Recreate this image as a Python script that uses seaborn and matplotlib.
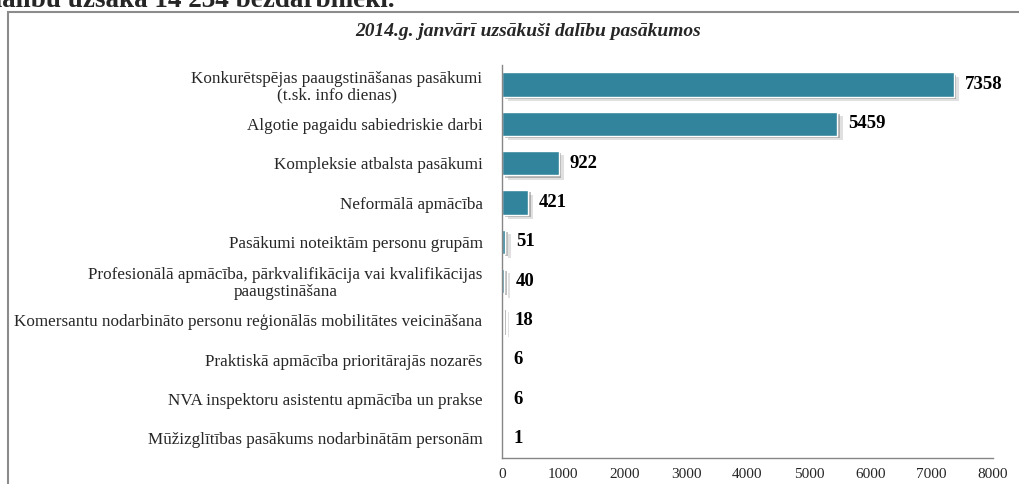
import matplotlib
matplotlib.use("Agg")
import matplotlib.pyplot as plt
import matplotlib.patheffects as pe
from matplotlib.patches import Rectangle
from matplotlib.ticker import FixedLocator
import seaborn as sns
import pandas as pd

# chart data
categories = [
    "Konkurētspējas paaugstināšanas pasākumi\n(t.sk. info dienas)",
    "Algotie pagaidu sabiedriskie darbi",
    "Kompleksie atbalsta pasākumi",
    "Neformālā apmācība",
    "Pasākumi noteiktām personu grupām",
    "Profesionālā apmācība, pārkvalifikācija vai kvalifikācijas\npaaugstināšana",
    "Komersantu nodarbināto personu reģionālās mobilitātes veicināšana",
    "Praktiskā apmācība prioritārajās nozarēs",
    "NVA inspektoru asistentu apmācība un prakse",
    "Mūžizglītības pasākums nodarbinātām personām",
]
values = [7358, 5459, 922, 421, 51, 40, 18, 6, 6, 1]
x_ticks = [0, 1000, 2000, 3000, 4000, 5000, 6000, 7000, 8000]
title = "2014.g. janvārī uzsākuši dalību pasākumos"
page_text = "dalību uzsāka 14 234 bezdarbnieki."

df = pd.DataFrame({"cat": categories, "val": values})

sns.set_style("white")
plt.rcParams['font.family'] = ['Liberation Serif', 'DejaVu Serif']

fig = plt.figure(figsize=(10.19, 4.84), dpi=100)
ax = fig.add_axes([0.4926, 0.0537, 0.4819, 0.812])

sns.barplot(data=df, y="cat", x="val", orient="h", color="#31849B",
            saturation=1, width=0.62, ax=ax)

# soft shadow like the original office chart
for bar in ax.patches:
    bar.set_path_effects([pe.SimplePatchShadow(offset=(4, -3), shadow_rgbFace="#9a9a9a", alpha=0.3),
                          pe.SimplePatchShadow(offset=(2, -1.5), shadow_rgbFace="#707070", alpha=0.45),
                          pe.Normal()])

ax.bar_label(ax.containers[0], labels=[str(v) for v in values], padding=8,
             fontsize=13.5, fontweight="bold", color="black")

ax.set_xlim(0, 8000)
ax.set_xticks(x_ticks)
ax.set_xticklabels([str(t) for t in x_ticks], fontsize=11)
ax.set_ylim(len(categories) - 0.5, -0.5)
ax.set_yticks(range(len(categories)))
ax.set_yticklabels(categories, fontsize=12.3, multialignment="center", linespacing=1.05)
ax.yaxis.set_minor_locator(FixedLocator([i - 0.5 for i in range(len(categories) + 1)]))
ax.tick_params(axis="y", which="major", length=0, pad=14)
ax.tick_params(axis="y", which="minor", length=4, color="#868686", direction="out")
ax.tick_params(axis="x", which="major", length=4, color="#868686", direction="out", pad=3)

ax.set_xlabel("")
ax.set_ylabel("")
for s in ["top", "right"]:
    ax.spines[s].set_visible(False)
for s in ["left", "bottom"]:
    ax.spines[s].set_color("#868686")
    ax.spines[s].set_linewidth(1)

fig.text(0.518, 0.934, title, ha="center", va="center", fontsize=14,
         fontstyle="italic", fontweight="bold")

# chart border (extends past the crop at right and bottom)
fig.patches.append(Rectangle((8 / 1019, -0.1), 1.2, 1 - 12 / 484 + 0.1, transform=fig.transFigure,
                             fill=False, edgecolor="#8c8c8c", linewidth=1.5))

# clipped line of the surrounding document text
fig.text(-0.013, 1 - 7 / 484, page_text, ha="left", va="baseline", fontsize=19.5, fontweight="bold")

fig.savefig("out.png", dpi=100)
